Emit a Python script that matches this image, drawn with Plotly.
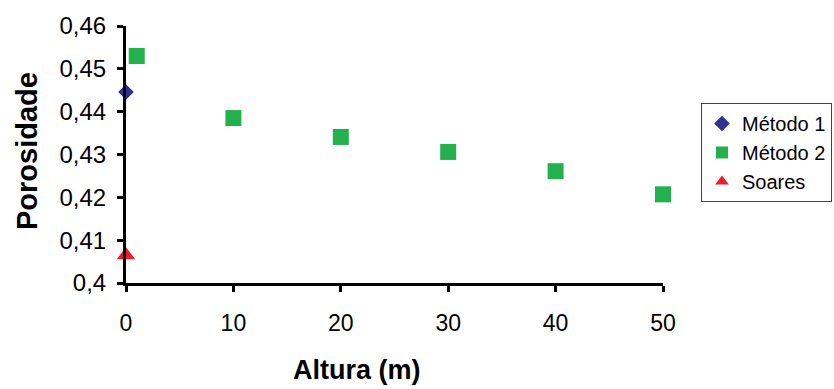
import plotly.graph_objects as go

# Data
m1_x = [0]
m1_y = [0.4446]
m2_x = [1, 10, 20, 30, 40, 50]
m2_y = [0.4530, 0.4385, 0.4341, 0.4306, 0.4261, 0.4207]
soares_x = [0]
soares_y = [0.4065]
x_ticks = [0, 10, 20, 30, 40, 50]
y_ticks = [0.40, 0.41, 0.42, 0.43, 0.44, 0.45, 0.46]
y_labels = ["0,4", "0,41", "0,42", "0,43", "0,44", "0,45", "0,46"]

FONT = "Liberation Sans, Arial, sans-serif"

fig = go.Figure()
fig.add_trace(go.Scatter(x=m1_x, y=m1_y, mode="markers", name="Método 1",
                         marker=dict(symbol="diamond", size=12, color="#2E3192"),
                         cliponaxis=False))
fig.add_trace(go.Scatter(x=m2_x, y=m2_y, mode="markers", name="Método 2",
                         marker=dict(symbol="square", size=16, color="#22B14C"),
                         cliponaxis=False))
fig.add_trace(go.Scatter(x=soares_x, y=soares_y, mode="markers", name="Soares",
                         marker=dict(symbol="triangle-up", size=16, color="#ED1C24"),
                         cliponaxis=False))

fig.update_layout(
    width=834, height=389,
    margin=dict(l=126, r=171, t=26, b=106, autoexpand=False),
    paper_bgcolor="white", plot_bgcolor="white",
    font=dict(family=FONT, color="black"),
    showlegend=True,
    legend=dict(x=(701 - 126) / 537, y=(283 - 103) / 257, xanchor="left", yanchor="top",
                bordercolor="#444444", borderwidth=1,
                font=dict(size=20, family=FONT), tracegroupgap=0,
                itemsizing="constant", itemwidth=30),
    xaxis=dict(range=[0, 50], tickvals=x_ticks, showgrid=False, zeroline=False,
               showline=True, linecolor="black", linewidth=3,
               ticks="outside", ticklen=6, tickwidth=3, tickcolor="black",
               tickfont=dict(size=23), ticklabelstandoff=11),
    yaxis=dict(range=[0.40, 0.46], tickvals=y_ticks, ticktext=y_labels,
               showgrid=False, zeroline=False,
               showline=True, linecolor="black", linewidth=3,
               ticks="outside", ticklen=6, tickwidth=3, tickcolor="black",
               tickfont=dict(size=24), ticklabelstandoff=6),
    annotations=[
        dict(text="<b>Altura (m)</b>", xref="paper", yref="paper",
             x=(357 - 126) / 537, y=(283 - 370) / 257, xanchor="center", yanchor="middle",
             showarrow=False, font=dict(size=27, family=FONT)),
        dict(text="<b>Porosidade</b>", xref="paper", yref="paper",
             x=(27 - 126) / 537, y=(283 - 151) / 257, xanchor="center", yanchor="middle",
             textangle=-90, showarrow=False, font=dict(size=29, family=FONT)),
    ],
)

fig.write_html("out.html")
